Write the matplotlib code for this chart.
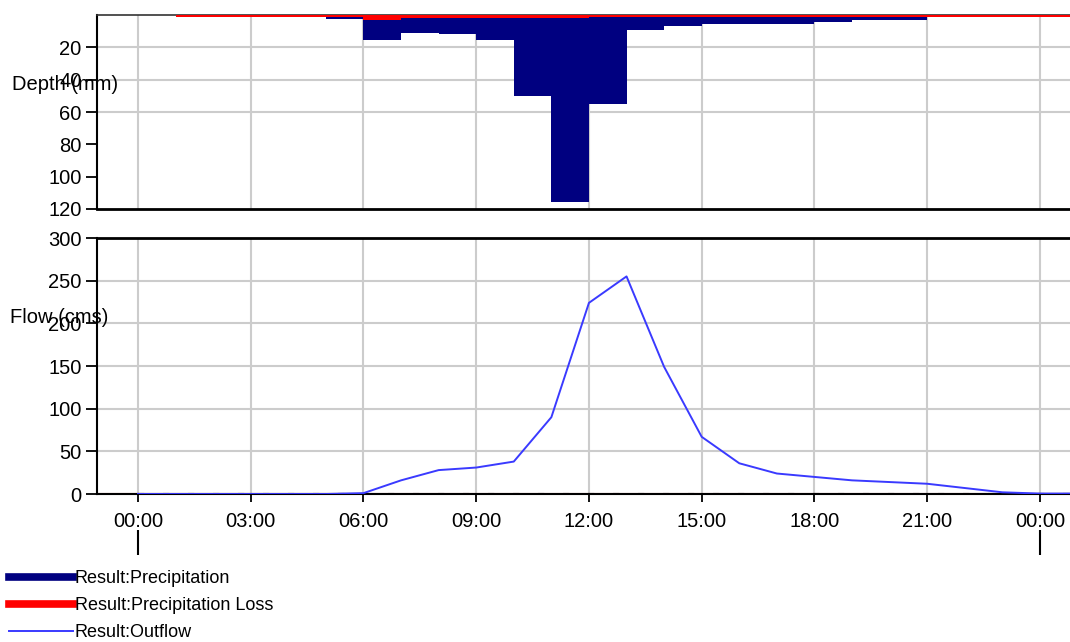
import numpy as np
import matplotlib.pyplot as plt
from matplotlib.lines import Line2D

plt.rcParams['font.family'] = ['Liberation Sans', 'DejaVu Sans']

# hourly data, hour 0 = 00:00 of day 1
precip_hours = [5, 6, 7, 8, 9, 10, 11, 12, 13, 14, 15, 16, 17, 18, 19, 20]
precip_mm = [2.2, 15.6, 10.9, 12.0, 15.6, 50.3, 115.8, 55.2, 9.2, 6.8, 5.7, 5.7, 5.7, 4.5, 3.3, 3.3]

loss_hours = list(range(1, 26))
loss_mm = [1.2, 1.2, 1.2, 1.2, 1.2, 3.3, 1.8, 1.8, 1.8, 1.8, 1.8, 1.2, 1.2, 1.2,
           1.2, 1.2, 1.2, 1.2, 1.2, 1.2, 1.2, 1.2, 1.2, 1.2, 1.2]

flow_hours = list(range(0, 26))
flow_cms = [0, 0, 0, 0, 0, 0, 1, 16, 28, 31, 38, 90, 224, 255, 149, 67, 36, 24,
            20, 16, 14, 12, 7, 2, 0.5, 0.5]

time_ticks = list(range(0, 25, 3))
time_labels = ['00:00', '03:00', '06:00', '09:00', '12:00', '15:00', '18:00', '21:00', '00:00']
depth_ticks = [20, 40, 60, 80, 100, 120]
flow_ticks = [0, 50, 100, 150, 200, 250, 300]

navy = '#000080'
red = '#ff0000'
blue = '#3a3aff'
grid_c = '#cccccc'
fs = 14.5

fig = plt.figure(figsize=(10.70, 6.42), dpi=100)
ax1 = fig.add_axes([97 / 1070, 1 - 209 / 642, 1 - 97 / 1070, 194 / 642])
ax2 = fig.add_axes([97 / 1070, 1 - 494 / 642, 1 - 97 / 1070, 256 / 642])

xlim = (-1.09, 24.8)

# --- precipitation panel ---
for h in time_ticks:
    ax1.axvline(h, color=grid_c, lw=1.5, zorder=0)
for d in [20, 40, 60]:
    ax1.axhline(d, color=grid_c, lw=1.5, zorder=0)
ax1.bar(precip_hours, precip_mm, width=1.0, align='edge', color=navy, zorder=2)
ax1.bar(loss_hours, loss_mm, width=1.0, align='edge', color=red, lw=0,
        zorder=4, clip_on=False)
ax1.set_xlim(*xlim)
ax1.set_ylim(120, 0)
ax1.set_yticks(depth_ticks)
ax1.set_xticks([])
ax1.tick_params(axis='y', length=8, width=1.3, labelsize=fs, pad=3)
ax1.spines['right'].set_visible(False)
ax1.spines['left'].set_linewidth(1.5)
ax1.spines['bottom'].set_linewidth(2)
ax1.spines['top'].set_linewidth(1.2)
ax1.spines['top'].set_color('#333333')

# --- flow panel ---
for h in time_ticks:
    ax2.axvline(h, color=grid_c, lw=1.5, zorder=0)
for f in flow_ticks[1:-1]:
    ax2.axhline(f, color=grid_c, lw=1.5, zorder=0)
ax2.axhline(0, color='#b22222', lw=1.5, zorder=2)
ax2.plot([0, xlim[1]], [0, 0], color='black', lw=1.5, ls=(0, (3, 9)), zorder=2.5)
ax2.plot(flow_hours, flow_cms, color=blue, lw=1.4, zorder=3)
ax2.set_xlim(*xlim)
ax2.set_ylim(0, 300)
ax2.set_yticks(flow_ticks)
ax2.set_xticks(time_ticks)
ax2.set_xticklabels(time_labels)
ax2.tick_params(axis='y', length=8, width=1.3, labelsize=fs, pad=3)
ax2.tick_params(axis='x', length=6, width=1.3, labelsize=fs, pad=7)
ax2.spines['right'].set_visible(False)
ax2.spines['left'].set_linewidth(1.5)
ax2.spines['top'].set_linewidth(2)
ax2.spines['bottom'].set_linewidth(1.5)

# day boundary marks
sec = ax2.secondary_xaxis((494 - 530) / 256)
sec.set_xticks([0, 24])
sec.set_xticklabels(['', ''])
sec.tick_params(axis='x', length=18, width=1.5, direction='out')
sec.spines['bottom'].set_visible(False)

fig.text(12 / 1070, 1 - 84 / 642, 'Depth (mm)', fontsize=fs, va='center', ha='left')
fig.text(10 / 1070, 1 - 318 / 642, 'Flow (cms)', fontsize=fs, va='center', ha='left')

handles = [Line2D([], [], color=navy, lw=5.5),
           Line2D([], [], color=red, lw=5.5),
           Line2D([], [], color=blue, lw=1.4)]
labels = ['Result:Precipitation', 'Result:Precipitation Loss', 'Result:Outflow']
fig.legend(handles, labels, loc='upper left', bbox_to_anchor=(9 / 1070, 1 - 570 / 642),
           frameon=False, fontsize=13, handlelength=3.55, handletextpad=0.1,
           labelspacing=0.55, borderpad=0, borderaxespad=0)

fig.savefig('out.png', dpi=100)
